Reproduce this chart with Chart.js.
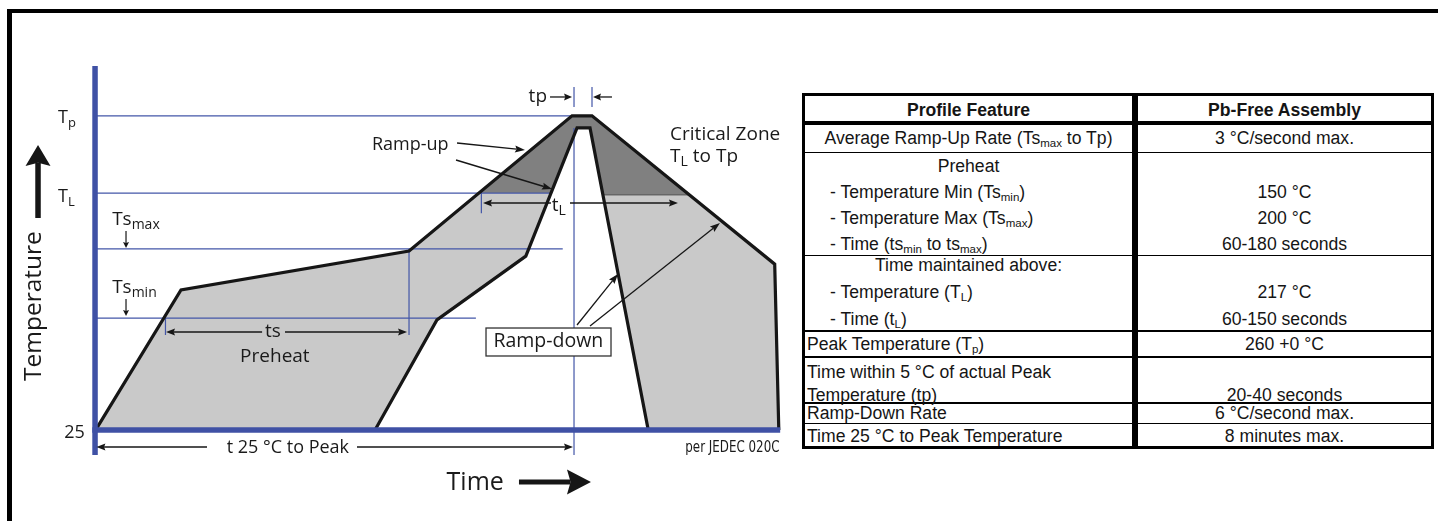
<!DOCTYPE html>
<html>
<head>
<meta charset="utf-8">
<script src="https://cdn.jsdelivr.net/npm/chart.js@4.4.1/dist/chart.umd.min.js"></script>
<style>
  html, body { margin: 0; padding: 0; width: 1438px; height: 521px; overflow: hidden; background: #fff; }
  #frame { position: absolute; left: 7px; top: 9px; width: 1450px; height: 530px; border-top: 4px solid #000; border-left: 5px solid #000; }
  #wrap { position: absolute; left: 0; top: 0; width: 800px; height: 521px; }
  #tbl { position: absolute; left: 802px; top: 93px; width: 626px; height: 350px; border: 3px solid #000;
         font: 17.6px "Liberation Sans", Arial, sans-serif; color: #151515; }
  #tbl .sep { position: absolute; left: 327px; top: 0; width: 6px; height: 350px; background: #000; }
  #tbl .row { position: relative; box-sizing: border-box; border-bottom: 1px solid #000; }
  #tbl .row.b2 { border-bottom-width: 2px; }
  #tbl .row.hd { border-bottom-width: 4px; font-weight: bold; }
  #tbl .row.last { border-bottom: 0; }
  #tbl .c1, #tbl .c2 { position: absolute; top: 0; white-space: nowrap; }
  #tbl .c1 { left: 0; width: 327px; }
  #tbl .c2 { left: 333px; width: 293px; text-align: center; }
  #tbl .ctr { text-align: center; }
  #tbl .l0 { padding-left: 2px; }
  #tbl .l1 { padding-left: 25px; }
  #tbl sub { font-size: 11.5px; vertical-align: -3px; line-height: 0; }
</style>
</head>
<body>
<div id="frame"></div>
<div id="wrap"><canvas id="reflow" width="800" height="521"></canvas></div>

<div id="tbl">
  <div class="sep"></div>
  <div class="row hd" style="height:29px; line-height:25px;">
    <div class="c1 ctr" style="top:2px">Profile Feature</div>
    <div class="c2" style="top:2px">Pb-Free Assembly</div>
  </div>
  <div class="row" style="height:28px; line-height:27px;">
    <div class="c1 ctr">Average Ramp-Up Rate (Ts<sub>max</sub> to Tp)</div>
    <div class="c2">3 °C/second max.</div>
  </div>
  <div class="row" style="height:103px; line-height:26px;">
    <div class="c1">
      <div class="ctr">Preheat</div>
      <div class="l1">- Temperature Min (Ts<sub>min</sub>)</div>
      <div class="l1">- Temperature Max (Ts<sub>max</sub>)</div>
      <div class="l1">- Time (ts<sub>min</sub> to ts<sub>max</sub>)</div>
    </div>
    <div class="c2">
      <div>&nbsp;</div>
      <div>150 °C</div>
      <div>200 °C</div>
      <div>60-180 seconds</div>
    </div>
  </div>
  <div class="row b2" style="height:76px; line-height:27px;">
    <div class="c1" style="top:-4px">
      <div class="ctr">Time maintained above:</div>
      <div class="l1">- Temperature (T<sub>L</sub>)</div>
      <div class="l1">- Time (t<sub>L</sub>)</div>
    </div>
    <div class="c2" style="top:-4px">
      <div>&nbsp;</div>
      <div>217 °C</div>
      <div>60-150 seconds</div>
    </div>
  </div>
  <div class="row b2" style="height:26px; line-height:24px;">
    <div class="c1 l0">Peak Temperature (T<sub>p</sub>)</div>
    <div class="c2">260 +0 °C</div>
  </div>
  <div class="row b2" style="height:46px; line-height:23px;">
    <div class="c1 l0" style="top:3px">
      <div>Time within 5 °C of actual Peak</div>
      <div>Temperature (tp)</div>
    </div>
    <div class="c2" style="top:3px">
      <div>&nbsp;</div>
      <div>20-40 seconds</div>
    </div>
  </div>
  <div class="row" style="height:20px; line-height:19px;">
    <div class="c1 l0">Ramp-Down Rate</div>
    <div class="c2">6 °C/second max.</div>
  </div>
  <div class="row last" style="height:22px; line-height:22px;">
    <div class="c1 l0" style="top:1px">Time 25 °C to Peak Temperature</div>
    <div class="c2" style="top:1px">8 minutes max.</div>
  </div>
</div>

<script>
(function () {
  'use strict';

  // schematic units: time 0..100 along the time axis, level 0 (25 °C) .. 100 (top of the temperature axis)
  var levelNames = ['25', 'Ts min', 'Ts max', 'T L', 'T p'];
  var levelValues = [0, 30.7, 49.7, 65.0, 86.2];
  var levelLineEnds = [null, 55.6, 68.3, 66.6, 69.9];

  // fastest (outer) and slowest (inner) profile
  var outerTime = [0, 12.47, 45.82, 69.66, 72.58, 99.3, 99.9];
  var outerLevel = [0, 38.4, 49.1, 86.2, 86.2, 45.5, 0];
  var innerTime = [40.85, 49.9, 62.9, 70.39, 72.29, 80.8];
  var innerLevel = [0, 30.2, 47.7, 82.9, 82.9, 0];

  // critical zone T_L .. T_p
  var zoneTime = [56.1, 69.66, 72.58, 86.8, 74.2, 72.29, 70.39, 66.6];
  var zoneLevel = [65.0, 86.2, 86.2, 64.5, 64.5, 82.9, 82.9, 65.0];

  // thin vertical guides
  var guideTime = [69.95, 45.82, 10.2, 56.4, 69.95, 72.58];
  var guideTop = [82.9, 49.7, 30.7, 65.0, 94.1, 94.1];
  var guideBottom = [-6.9, 26.05, 26.05, 59.5, 88.6, 88.6];

  var BLUE = '#4356a8';
  var AXIS = '#3f51a5';
  var INK = '#161616';
  var FONT = '"Open Sans", "Noto Sans", sans-serif';
  var NARROW = '"Liberation Sans Narrow", "DejaVu Sans Condensed", sans-serif';

  // annotation placement, in the same chart units
  var labels = [
    { parts: [['T'], ['p', 1]], t: -5.5, v: 84.2, size: 18 },
    { parts: [['T'], ['L', 1]], t: -5.5, v: 62.6, size: 18 },
    { parts: [['Ts'], ['max', 1]], t: 2.4, v: 56.2, size: 19 },
    { parts: [['Ts'], ['min', 1]], t: 2.4, v: 37.6, size: 19 },
    { parts: [['25']], t: -1.6, v: -2.2, size: 18, align: 'right' },
    { parts: [['Ramp-up']], t: 40.4, v: 76.8, size: 18 },
    { parts: [['Critical Zone']], t: 84.0, v: 79.6, size: 19 },
    { parts: [['T'], ['L', 1], [' to Tp']], t: 84.0, v: 73.5, size: 19 },
    { parts: [['tp']], t: 66.0, v: 90.0, size: 19, align: 'right' },
    { parts: [['t'], ['L', 1]], t: 66.7, v: 60.1, size: 19 },
    { parts: [['ts']], t: 25.9, v: 25.5, size: 19, align: 'center' },
    { parts: [['Preheat']], t: 26.2, v: 18.6, size: 19, align: 'center' },
    { parts: [['t 25 °C to Peak']], t: 28.1, v: -6.3, size: 18, align: 'center' },
    { parts: [['Ramp-down']], t: 66.2, v: 22.8, size: 19.5, align: 'center' },
    { parts: [['Time']], t: 55.5, v: -16.5, size: 25, align: 'center' },
    { parts: [['Temperature']], t: -8.0, v: 34.0, size: 24.5, align: 'center', rotate: true },
    { parts: [['per JEDEC 020C']], t: 100.0, v: -6.1, size: 15, align: 'right', font: NARROW, squeeze: 0.88 },
  ];

  // [t1, v1, t2, v2, lineWidth, headLength, headHalfWidth]; head at the second end
  var arrows = [
    [52.84, 78.75, 62.78, 76.83, 1.4, 10, 3.5],
    [52.69, 74.09, 66.73, 66.13, 1.4, 10, 3.5],
    [66.44, 91.38, 69.66, 91.38, 1.3, 8, 3.5],
    [75.5, 91.38, 72.73, 91.38, 1.3, 8, 3.5],
    [66.58, 62.28, 56.64, 62.28, 1.3, 9, 3.5],
    [69.36, 62.28, 85.15, 62.28, 1.3, 9, 3.5],
    [24.33, 26.87, 10.28, 26.87, 1.3, 9, 3.5],
    [27.68, 26.87, 45.53, 26.87, 1.3, 9, 3.5],
    [16.28, -4.69, 0.1, -4.69, 1.3, 9, 3.5],
    [38.21, -4.69, 69.8, -4.69, 1.3, 9, 3.5],
    [70.39, 28.8, 76.38, 42.79, 1.3, 10, 3.5],
    [72.29, 28.52, 91.29, 56.79, 1.3, 10, 3.5],
    [4.43, 54.6, 4.43, 49.93, 1.2, 6, 3],
    [4.43, 35.93, 4.43, 31.27, 1.2, 6, 3],
    [61.9, -14.3, 72.43, -14.3, 5, 24, 12.5],
    [-8.44, 58.17, -8.44, 78.2, 5.5, 21, 12.5],
  ];

  // Ramp-down callout box [t1, v1, t2, v2]
  var boxes = [[57.08, 27.97, 75.36, 20.29]];

  function pts(xs, ys) {
    return xs.map(function (x, i) { return { x: x, y: ys[i] }; });
  }

  function line(data, color, width, order) {
    return {
      data: data, borderColor: color, borderWidth: width, order: order,
      pointRadius: 0, tension: 0, fill: false, borderCapStyle: 'butt',
    };
  }

  function buildDatasets() {
    var ds = [];
    var region = pts(outerTime, outerLevel).concat(pts(innerTime, innerLevel).reverse());
    ds.push({ data: region, fill: 'shape', backgroundColor: '#c9c9c9', borderColor: 'rgba(0,0,0,0)',
              borderWidth: 0, pointRadius: 0, tension: 0, order: 10 });
    ds.push({ data: pts(zoneTime, zoneLevel), fill: 'shape', backgroundColor: '#808080', borderColor: '#555',
              borderWidth: 1, pointRadius: 0, tension: 0, order: 9 });
    for (var i = 1; i < levelValues.length; i++) {
      ds.push(line([{ x: 0, y: levelValues[i] }, { x: levelLineEnds[i], y: levelValues[i] }], BLUE, 1.2, 8));
    }
    guideTime.forEach(function (t, i) {
      ds.push(line([{ x: t, y: guideTop[i] }, { x: t, y: guideBottom[i] }], BLUE, 1.2, 8));
    });
    ds.push(line(pts(outerTime, outerLevel), INK, 3.2, 7));
    ds.push(line(pts(innerTime, innerLevel), INK, 3.2, 7));
    // axes
    ds.push(line([{ x: -0.1, y: -6.9 }, { x: -0.1, y: 99.9 }], AXIS, 5.5, 6));
    ds.push(line([{ x: -0.5, y: 0 }, { x: 100.1, y: 0 }], AXIS, 5.5, 6));
    return ds;
  }

  function drawRich(ctx, lb, x, y) {
    var main = lb.size;
    var sub = Math.round(main * 0.72);
    var family = lb.font || FONT;
    var sx = lb.squeeze || 1;
    var widths = lb.parts.map(function (p) {
      ctx.font = (p[1] ? sub : main) + 'px ' + family;
      return ctx.measureText(p[0]).width * sx;
    });
    var total = widths.reduce(function (a, b) { return a + b; }, 0);
    var cx = x;
    if (lb.align === 'center') cx = x - total / 2;
    else if (lb.align === 'right') cx = x - total;
    ctx.textAlign = 'left';
    ctx.textBaseline = 'alphabetic';
    lb.parts.forEach(function (p, i) {
      ctx.font = (p[1] ? sub : main) + 'px ' + family;
      ctx.save();
      ctx.translate(cx, y + (p[1] ? main * 0.22 : 0));
      ctx.scale(sx, 1);
      ctx.fillText(p[0], 0, 0);
      ctx.restore();
      cx += widths[i];
    });
  }

  var notes = {
    id: 'notes',
    afterDatasetsDraw: function (chart) {
      var ctx = chart.ctx;
      var X = function (t) { return chart.scales.x.getPixelForValue(t); };
      var Y = function (v) { return chart.scales.y.getPixelForValue(v); };
      ctx.save();

      boxes.forEach(function (b) {
        var x1 = X(b[0]), y1 = Y(b[1]), x2 = X(b[2]), y2 = Y(b[3]);
        ctx.fillStyle = '#fff';
        ctx.fillRect(x1, y1, x2 - x1, y2 - y1);
        ctx.lineWidth = 1.3;
        ctx.strokeStyle = '#333';
        ctx.strokeRect(x1, y1, x2 - x1, y2 - y1);
      });

      ctx.strokeStyle = INK;
      ctx.fillStyle = INK;
      arrows.forEach(function (a) {
        var x1 = X(a[0]), y1 = Y(a[1]), x2 = X(a[2]), y2 = Y(a[3]);
        var ang = Math.atan2(y2 - y1, x2 - x1);
        var hl = a[5], hw = a[6];
        var c = Math.cos(ang), s = Math.sin(ang);
        var bx = x2 - c * hl * 0.85, by = y2 - s * hl * 0.85;
        ctx.lineWidth = a[4];
        ctx.beginPath();
        ctx.moveTo(x1, y1);
        ctx.lineTo(bx, by);
        ctx.stroke();
        ctx.beginPath();
        ctx.moveTo(x2, y2);
        ctx.lineTo(x2 - c * hl - s * hw, y2 - s * hl + c * hw);
        ctx.lineTo(bx, by);
        ctx.lineTo(x2 - c * hl + s * hw, y2 - s * hl - c * hw);
        ctx.closePath();
        ctx.fill();
      });

      ctx.fillStyle = '#1a1a1a';
      labels.forEach(function (lb) {
        if (lb.rotate) {
          ctx.save();
          ctx.translate(X(lb.t), Y(lb.v));
          ctx.rotate(-Math.PI / 2);
          drawRich(ctx, lb, 0, 0);
          ctx.restore();
        } else {
          drawRich(ctx, lb, X(lb.t), Y(lb.v));
        }
      });
      ctx.restore();
    },
  };

  new Chart(document.getElementById('reflow'), {
    type: 'line',
    data: { datasets: buildDatasets() },
    options: {
      responsive: false,
      animation: false,
      devicePixelRatio: 1,
      events: [],
      layout: { padding: 0 },
      plugins: { legend: { display: false }, tooltip: { enabled: false }, title: { display: false } },
      scales: {
        x: { type: 'linear', min: -14, max: 103, display: false },
        y: { type: 'linear', min: -25, max: 118, display: false },
      },
    },
    plugins: [notes],
  });
})();
</script>
</body>
</html>
